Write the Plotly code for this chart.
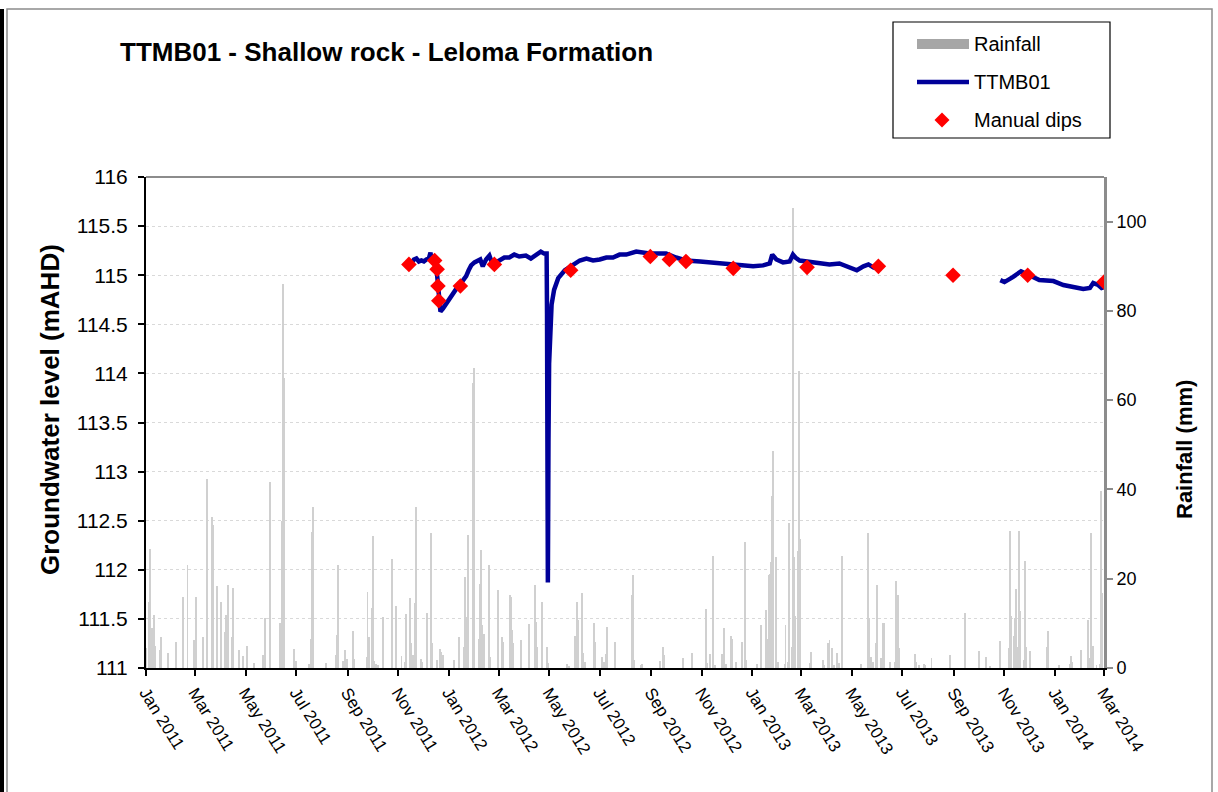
import plotly.graph_objects as go

# ---------------------------------------------------------------------------
# Daily rainfall (mm)
# ---------------------------------------------------------------------------
rain_dates = [
    "2011-01-01", "2011-01-05", "2011-01-06", "2011-01-08", "2011-01-11", "2011-01-12",
    "2011-01-18", "2011-01-19", "2011-01-27", "2011-02-06", "2011-02-14", "2011-02-15",
    "2011-02-20", "2011-02-28", "2011-03-02", "2011-03-11", "2011-03-16", "2011-03-22",
    "2011-03-23", "2011-03-28", "2011-04-01", "2011-04-06", "2011-04-07", "2011-04-10",
    "2011-04-15", "2011-04-16", "2011-04-23", "2011-04-28", "2011-05-03", "2011-05-11",
    "2011-05-22", "2011-05-24", "2011-05-25", "2011-05-30", "2011-05-31", "2011-06-11",
    "2011-06-12", "2011-06-14", "2011-06-15", "2011-06-16", "2011-06-28", "2011-07-01",
    "2011-07-17", "2011-07-19", "2011-07-20", "2011-07-21", "2011-08-06", "2011-08-18",
    "2011-08-19", "2011-08-20", "2011-08-21", "2011-08-27", "2011-08-29", "2011-08-31",
    "2011-09-08", "2011-09-09", "2011-09-24", "2011-09-25", "2011-09-27", "2011-10-01",
    "2011-10-02", "2011-10-03", "2011-10-05", "2011-10-08", "2011-10-14", "2011-10-25",
    "2011-10-29", "2011-11-05", "2011-11-09", "2011-11-11", "2011-11-15", "2011-11-16",
    "2011-11-19", "2011-11-21", "2011-11-22", "2011-11-23", "2011-11-29", "2011-11-30",
    "2011-12-06", "2011-12-10", "2011-12-11", "2011-12-12", "2011-12-18", "2011-12-22",
    "2011-12-23", "2011-12-25",
    "2012-01-07", "2012-01-13", "2012-01-19", "2012-01-21", "2012-01-22", "2012-01-23",
    "2012-01-24", "2012-01-30", "2012-01-31", "2012-02-01", "2012-02-06", "2012-02-08",
    "2012-02-09", "2012-02-10", "2012-02-12", "2012-02-18", "2012-02-19", "2012-02-20",
    "2012-02-29", "2012-03-01", "2012-03-05", "2012-03-06", "2012-03-15", "2012-03-16",
    "2012-03-17", "2012-03-18", "2012-03-28", "2012-04-07", "2012-04-14", "2012-04-15",
    "2012-04-16", "2012-04-22", "2012-04-28", "2012-04-30", "2012-05-23", "2012-05-25",
    "2012-06-01", "2012-06-04", "2012-06-05", "2012-06-10", "2012-06-11", "2012-06-13",
    "2012-06-24", "2012-06-25", "2012-07-04", "2012-07-06", "2012-07-08", "2012-07-10",
    "2012-07-19", "2012-07-20", "2012-08-09", "2012-08-10", "2012-08-11", "2012-08-20",
    "2012-08-21", "2012-09-12", "2012-09-15", "2012-09-16", "2012-10-09", "2012-10-20",
    "2012-11-06", "2012-11-07", "2012-11-11", "2012-11-15", "2012-11-16", "2012-11-17",
    "2012-11-25", "2012-11-28", "2012-11-30", "2012-12-06", "2012-12-07", "2012-12-08",
    "2012-12-12", "2012-12-20", "2012-12-23", "2012-12-24",
    "2013-01-07", "2013-01-11", "2013-01-12", "2013-01-17", "2013-01-18", "2013-01-20",
    "2013-01-21", "2013-01-22", "2013-01-24", "2013-01-25", "2013-01-26", "2013-01-30",
    "2013-02-01", "2013-02-09", "2013-02-10", "2013-02-13", "2013-02-14", "2013-02-18",
    "2013-02-19", "2013-02-20", "2013-02-21", "2013-02-25", "2013-02-26", "2013-02-27",
    "2013-02-28", "2013-03-11", "2013-03-13", "2013-03-27", "2013-03-29", "2013-04-02",
    "2013-04-03", "2013-04-04", "2013-04-07", "2013-04-09", "2013-04-13", "2013-04-15",
    "2013-04-19", "2013-05-12", "2013-05-20", "2013-05-21", "2013-05-22", "2013-05-24",
    "2013-05-26", "2013-05-30", "2013-05-31", "2013-06-05", "2013-06-08", "2013-06-09",
    "2013-06-16", "2013-06-22", "2013-06-23", "2013-06-24", "2013-06-26", "2013-06-27",
    "2013-07-16", "2013-07-17", "2013-07-21", "2013-07-27", "2013-07-28", "2013-08-05",
    "2013-08-27", "2013-09-14", "2013-10-01", "2013-10-10", "2013-10-15", "2013-10-27",
    "2013-11-07", "2013-11-08", "2013-11-09", "2013-11-12", "2013-11-13", "2013-11-14",
    "2013-11-15", "2013-11-17", "2013-11-18", "2013-11-19", "2013-11-20", "2013-11-25",
    "2013-11-26", "2013-11-27", "2013-12-02", "2013-12-22", "2013-12-23",
    "2014-01-06", "2014-01-19", "2014-01-20", "2014-01-21", "2014-02-01", "2014-02-10",
    "2014-02-11", "2014-02-13", "2014-02-16", "2014-02-20", "2014-02-24", "2014-02-25",
    "2014-02-26", "2014-02-27",
]
rain_mm = [
    4.4, 14.8, 26.7, 8.9, 11.8, 5.0,
    4.0, 7.0, 3.4, 5.9, 15.6, 16.0,
    23.0, 6.3, 16.0, 7.0, 42.3, 33.8,
    32.0, 18.3, 14.8, 8.0, 11.8, 18.6,
    7.0, 17.9, 4.0, 2.8, 5.0, 1.2,
    3.0, 11.3, 8.0, 41.7, 5.0, 5.0,
    10.0, 33.0, 86.0, 65.0, 4.2, 1.5,
    1.0, 6.6, 30.4, 36.0, 1.2, 3.0,
    7.3, 23.0, 11.0, 1.5, 4.0, 2.0,
    8.3, 2.0, 2.5, 17.0, 7.0, 13.4,
    29.5, 1.5, 1.0, 0.7, 11.4, 24.5,
    14.0, 2.7, 1.4, 12.2, 15.7, 5.5,
    2.9, 14.6, 33.6, 36.0, 2.0, 1.4,
    12.4, 24.3, 30.3, 5.5, 1.8, 4.2,
    3.6, 2.9,
    1.8, 7.0, 4.8, 20.4, 11.5, 7.7,
    29.7, 63.9, 67.1, 30.0, 6.6, 18.8,
    26.5, 9.6, 7.7, 5.1, 23.0, 2.5,
    17.4, 4.0, 7.0, 5.9, 16.4, 15.9,
    8.5, 5.7, 6.3, 9.8, 18.5, 10.3,
    4.8, 14.8, 4.8, 1.2, 0.9, 0.5,
    7.1, 14.7, 10.7, 16.7, 3.3, 1.4,
    10.1, 5.9, 2.5, 1.4, 3.1, 9.2,
    5.9, 5.5, 16.3, 20.8, 1.9, 0.7,
    1.0, 1.6, 4.8, 2.9, 2.2, 3.4,
    13.2, 1.2, 3.1, 25.2, 0.7, 0.7,
    3.1, 9.0, 1.0, 7.1, 6.5, 5.1,
    1.4, 5.9, 28.3, 1.8,
    1.0, 9.7, 0.7, 4.8, 12.9, 6.6,
    20.9, 21.1, 23.7, 38.6, 48.7, 24.9,
    1.4, 1.0, 9.6, 1.4, 32.5, 4.8,
    103.0, 24.9, 11.6, 26.3, 66.5, 28.9,
    4.2, 1.2, 3.6, 1.9, 0.7, 5.7,
    2.2, 6.3, 4.4, 0.7, 3.3, 1.2,
    25.0, 0.9, 12.9, 30.3, 11.1, 2.5,
    1.4, 5.5, 18.5, 2.3, 10.1, 10.1,
    1.3, 1.4, 19.6, 5.7, 16.3, 4.4,
    3.1, 1.4, 0.7, 0.9, 0.7, 2.2,
    2.9, 12.4, 3.9, 2.5, 0.5, 6.0,
    4.4, 30.8, 11.6, 1.2, 7.1, 11.3,
    17.8, 4.8, 1.4, 30.8, 12.8, 1.8,
    23.9, 4.8, 3.8, 4.6, 8.3,
    0.7, 1.0, 2.7, 1.4, 4.0, 10.7,
    2.2, 30.3, 4.9, 0.7, 0.9, 39.7,
    33.9, 16.7,
]

# ---------------------------------------------------------------------------
# Logger record for bore TTMB01 (groundwater level, mAHD); None = no record
# ---------------------------------------------------------------------------
gw_dates = [
    "2011-11-17", "2011-11-20", "2011-11-23", "2011-11-26", "2011-11-29", "2011-12-02",
    "2011-12-05", "2011-12-08", "2011-12-10", "2011-12-11", "2011-12-14", "2011-12-16",
    "2011-12-18", "2011-12-20", "2011-12-22", "2011-12-25", "2011-12-29", "2012-01-02",
    "2012-01-06", "2012-01-10", "2012-01-14", "2012-01-18", "2012-01-22", "2012-01-25",
    "2012-01-28", "2012-02-01", "2012-02-05", "2012-02-08", "2012-02-11", "2012-02-15",
    "2012-02-19", "2012-02-22", "2012-02-25", "2012-03-02", "2012-03-08", "2012-03-14",
    "2012-03-20", "2012-03-26", "2012-04-03", "2012-04-09", "2012-04-15", "2012-04-21",
    "2012-04-25", "2012-04-28 00:00", "2012-04-28 12:00", "2012-04-29 12:00",
    "2012-04-30 06:00", "2012-05-01", "2012-05-02", "2012-05-04", "2012-05-07",
    "2012-05-12", "2012-05-20", "2012-05-30", "2012-06-07", "2012-06-15", "2012-06-23",
    "2012-07-01", "2012-07-09", "2012-07-17", "2012-07-25", "2012-08-02", "2012-08-14",
    "2012-08-30", "2012-09-19", "2012-10-01", "2012-10-13", "2012-10-30", "2012-11-15",
    "2012-12-01", "2012-12-17", "2013-01-02", "2013-01-14", "2013-01-22", "2013-01-25",
    "2013-01-30", "2013-02-07", "2013-02-15", "2013-02-19", "2013-02-22", "2013-02-27",
    "2013-03-08", "2013-03-19", "2013-04-04", "2013-04-16", "2013-04-26", "2013-05-07",
    "2013-05-15", "2013-05-21", "2013-05-27", "2013-05-31",
    "2013-08-01",
    "2013-10-27", "2013-11-01", "2013-11-11", "2013-11-21", "2013-12-01", "2013-12-13",
    "2013-12-30", "2014-01-11", "2014-01-23", "2014-02-04", "2014-02-12", "2014-02-16",
    "2014-02-22", "2014-02-26", "2014-03-01",
]
gw_level = [
    115.12, 115.16, 115.17, 115.14, 115.15, 115.14,
    115.16, 115.17, 115.23, 115.15, 115.14, 115.12,
    115.00, 114.78, 114.63, 114.66, 114.71, 114.76,
    114.83, 114.86, 114.90, 114.94, 114.99, 115.05,
    115.10, 115.13, 115.15, 115.16, 115.09, 115.16,
    115.20, 115.13, 115.12, 115.15, 115.18, 115.18,
    115.21, 115.19, 115.20, 115.17, 115.20, 115.24,
    115.22, 115.22, 114.60, 111.87,
    113.30, 114.10, 114.45, 114.70, 114.85,
    114.97, 115.05, 115.10, 115.15, 115.17, 115.15,
    115.16, 115.18, 115.18, 115.21, 115.21, 115.24,
    115.22, 115.22, 115.18, 115.15, 115.14, 115.13,
    115.12, 115.10, 115.09, 115.10, 115.12, 115.21,
    115.16, 115.13, 115.14, 115.21, 115.18, 115.15,
    115.14, 115.13, 115.11, 115.12, 115.09, 115.05,
    115.09, 115.11, 115.08, 115.07,
    None,
    114.95, 114.93, 114.98, 115.04, 115.00, 114.95,
    114.94, 114.90, 114.88, 114.86, 114.87, 114.92,
    114.90, 114.87, 114.88,
]

# Manual dip measurements (mAHD)
dip_dates = [
    "2011-11-14", "2011-12-15", "2011-12-18", "2011-12-19", "2011-12-20", "2012-01-15",
    "2012-02-25", "2012-05-27", "2012-08-31", "2012-09-23", "2012-10-13", "2012-12-09",
    "2013-03-08", "2013-06-02", "2013-08-31", "2013-11-29", "2014-03-01",
]
dip_level = [
    115.11, 115.15, 115.06, 114.89, 114.74, 114.89,
    115.11, 115.05, 115.19, 115.16, 115.14, 115.07,
    115.08, 115.09, 115.00, 115.00, 114.93,
]

# Axis ticks
x_tick_dates = [
    "2011-01-01", "2011-03-01", "2011-05-01", "2011-07-01", "2011-09-01", "2011-11-01",
    "2012-01-01", "2012-03-01", "2012-05-01", "2012-07-01", "2012-09-01", "2012-11-01",
    "2013-01-01", "2013-03-01", "2013-05-01", "2013-07-01", "2013-09-01", "2013-11-01",
    "2014-01-01", "2014-03-01",
]
x_tick_labels = [
    "Jan 2011", "Mar 2011", "May 2011", "Jul 2011", "Sep 2011", "Nov 2011",
    "Jan 2012", "Mar 2012", "May 2012", "Jul 2012", "Sep 2012", "Nov 2012",
    "Jan 2013", "Mar 2013", "May 2013", "Jul 2013", "Sep 2013", "Nov 2013",
    "Jan 2014", "Mar 2014",
]
gw_ticks = [111, 111.5, 112, 112.5, 113, 113.5, 114, 114.5, 115, 115.5, 116]
gw_tick_labels = ["111", "111.5", "112", "112.5", "113", "113.5", "114", "114.5",
                  "115", "115.5", "116"]
rain_ticks = [0, 20, 40, 60, 80, 100]

# ---------------------------------------------------------------------------
# Page geometry
# ---------------------------------------------------------------------------
W, H = 1218, 792
M_L, M_R, M_T, M_B = 146, 114, 177, 124
PW, PH = W - M_L - M_R, H - M_T - M_B
FONT = "Arial, Liberation Sans, sans-serif"
NAVY = "#000099"
DAY_MS = 86400000


def px(x):
    """Horizontal page pixel -> paper fraction."""
    return (x - M_L) / PW


def py(y):
    """Vertical page pixel (from top) -> paper fraction."""
    return (H - M_B - y) / PH


fig = go.Figure()

fig.add_trace(go.Bar(
    x=rain_dates, y=rain_mm, name="Rainfall",
    marker=dict(color="#d0d0d0", line=dict(width=0)),
    width=DAY_MS * 1.1, yaxis="y", showlegend=False,
))
fig.add_trace(go.Scatter(
    x=gw_dates, y=gw_level, name="TTMB01", mode="lines",
    line=dict(color=NAVY, width=4.5), connectgaps=False,
    yaxis="y2", showlegend=False,
))
fig.add_trace(go.Scatter(
    x=dip_dates, y=dip_level, name="Manual dips", mode="markers",
    marker=dict(symbol="diamond", size=12, color="#ff0000", line=dict(width=0)),
    yaxis="y2", showlegend=False,
))

shapes = []
annotations = []

# top edge of the plot area
shapes.append(dict(type="line", xref="paper", yref="paper", x0=0, x1=1, y0=1, y1=1,
                   line=dict(color="#8c8c8c", width=2)))

# outer chart frame
shapes.append(dict(type="rect", xref="paper", yref="paper",
                   x0=px(7), x1=px(1212), y0=py(795), y1=py(9),
                   line=dict(color="#8c8c8c", width=1.5)))
shapes.append(dict(type="line", xref="paper", yref="paper",
                   x0=px(2), x1=px(2), y0=py(795), y1=py(9),
                   line=dict(color="#000000", width=4)))

# legend box
shapes.append(dict(type="rect", xref="paper", yref="paper",
                   x0=px(893), x1=px(1110), y0=py(138), y1=py(22),
                   line=dict(color="#000000", width=1.2), fillcolor="#ffffff"))
shapes.append(dict(type="rect", xref="paper", yref="paper",
                   x0=px(917), x1=px(969), y0=py(49), y1=py(39),
                   line=dict(width=0), fillcolor="#a6a6a6"))
shapes.append(dict(type="line", xref="paper", yref="paper",
                   x0=px(917), x1=px(969), y0=py(82), y1=py(82),
                   line=dict(color=NAVY, width=4.5)))
cx, cy, r = 942, 120, 7.5
shapes.append(dict(type="path", xref="paper", yref="paper",
                   path=(f"M {px(cx - r)},{py(cy)} L {px(cx)},{py(cy - r)} "
                         f"L {px(cx + r)},{py(cy)} L {px(cx)},{py(cy + r)} Z"),
                   line=dict(width=0), fillcolor="#ff0000"))
for label, yy in [("Rainfall", 44), ("TTMB01", 82), ("Manual dips", 120)]:
    annotations.append(dict(text=label, xref="paper", yref="paper", x=px(972), y=py(yy),
                            xanchor="left", yanchor="middle", showarrow=False,
                            font=dict(family=FONT, size=20, color="#000000")))

# axis titles
annotations.append(dict(text="Groundwater level (mAHD)", xref="paper", yref="paper",
                        x=px(50), y=py(410), xanchor="center", yanchor="middle",
                        textangle=-90, showarrow=False,
                        font=dict(family=FONT, size=26, color="#000000", weight="bold")))
annotations.append(dict(text="Rainfall (mm)", xref="paper", yref="paper",
                        x=px(1184), y=py(450), xanchor="center", yanchor="middle",
                        textangle=-90, showarrow=False,
                        font=dict(family=FONT, size=22, color="#000000", weight="bold")))

fig.update_layout(
    width=W, height=H,
    margin=dict(l=M_L, r=M_R, t=M_T, b=M_B),
    paper_bgcolor="#ffffff", plot_bgcolor="#ffffff",
    font=dict(family=FONT, color="#000000"),
    title=dict(text="TTMB01 - Shallow rock - Leloma Formation",
               x=120 / W, xref="container", xanchor="left",
               y=1 - 52 / H, yref="container", yanchor="middle",
               font=dict(family=FONT, size=26, color="#000000", weight="bold")),
    showlegend=False,
    bargap=0,
    xaxis=dict(
        type="date", range=["2011-01-01", "2014-03-01"],
        tickmode="array", tickvals=x_tick_dates, ticktext=x_tick_labels,
        tickangle=58, tickfont=dict(size=17),
        ticks="outside", ticklen=6, tickwidth=1.5, tickcolor="#000000",
        showline=True, linecolor="#000000", linewidth=2,
        showgrid=False, zeroline=False,
    ),
    yaxis=dict(
        side="right", range=[0, 110],
        tickmode="array", tickvals=rain_ticks,
        tickfont=dict(size=18), ticks="outside", ticklen=6, tickwidth=2,
        tickcolor="#8c8c8c",
        showline=True, linecolor="#8c8c8c", linewidth=3,
        showgrid=False, zeroline=False,
    ),
    yaxis2=dict(
        side="left", overlaying="y", range=[111, 116],
        tickmode="array", tickvals=gw_ticks, ticktext=gw_tick_labels,
        tickfont=dict(size=21), ticks="outside", ticklen=6, tickwidth=1.5,
        tickcolor="#000000", ticklabelstandoff=6,
        showline=True, linecolor="#000000", linewidth=2,
        showgrid=True, gridcolor="#d9d9d9", griddash="dot", gridwidth=1,
        zeroline=False,
    ),
    shapes=shapes,
    annotations=annotations,
)

fig.write_html("out.html")
